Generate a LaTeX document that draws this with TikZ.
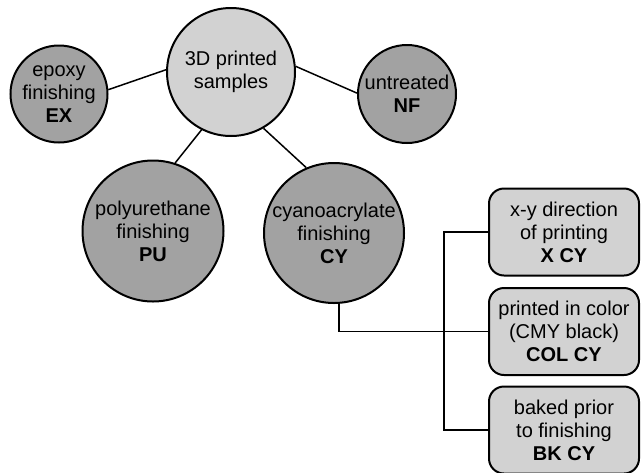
\documentclass[tikz,border=0pt]{standalone}
\usepackage{fontspec}
\setmainfont{Liberation Sans}
\usepackage{tikz}

\definecolor{lightgrey}{HTML}{D2D2D2}
\definecolor{darkgrey}{HTML}{A2A2A2}

\begin{document}
\begin{tikzpicture}[x=1pt,y=-1pt,
  every node/.style={font=\fontsize{20}{23}\selectfont, align=center, inner sep=0pt},
  bubble/.style={circle, draw=black, line width=2pt, fill=darkgrey},
  hub/.style={bubble, fill=lightgrey},
  card/.style={rectangle, rounded corners=15pt, draw=black, line width=2pt,
    fill=lightgrey, minimum width=150pt, minimum height=87pt},
  link/.style={line width=1.5pt}]
\useasboundingbox (0,0) rectangle (642,472);

% sample groups
\node[hub, minimum size=128pt] (samples) at (231,72) {3D printed\\samples};
\node[bubble, minimum size=97pt] (ex) at (59,94) {epoxy\\finishing\\\textbf{EX}};
\node[bubble, minimum size=98pt] (nf) at (407,94) {untreated\\\textbf{NF}};
\node[bubble, minimum size=141pt] (pu) at (153,231) {polyurethane\\finishing\\\textbf{PU}};
\node[bubble, minimum size=140pt] (cy) at (334,233) {cyanoacrylate\\finishing\\\textbf{CY}};

\draw[link] (ex.5) -- (samples.178);
\draw[link] (samples.5) -- (nf.179);
\draw[link] (samples.243) -- (pu.72);
\draw[link] (samples.300) -- (cy.113);

% cyanoacrylate variants
\node[card] (xcy) at (564,232) {x-y direction\\of printing\\\textbf{X CY}};
\node[card] (colcy) at (564,331.5) {printed in color\\(CMY black)\\\textbf{COL CY}};
\node[card] (bkcy) at (564,430) {baked prior\\to finishing\\\textbf{BK CY}};

\coordinate (fork) at (444,232);
\draw[link] (cy.-86) |- (colcy.west);
\draw[link] (xcy.west) -- (fork) |- (bkcy.west);

\end{tikzpicture}
\end{document}
